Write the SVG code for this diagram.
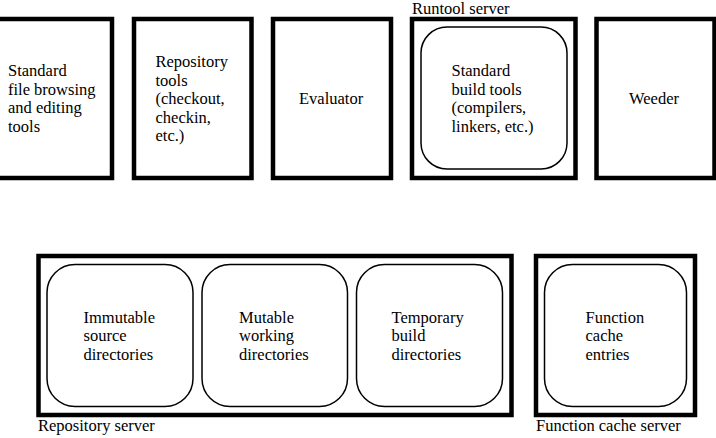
<svg xmlns="http://www.w3.org/2000/svg" width="716" height="438" viewBox="0 0 716 438" font-family="Liberation Serif, DejaVu Serif, serif" font-size="16.5">
<style>
.box{fill:#fff;stroke:#000;stroke-width:4.5}
.inner{fill:#fff;stroke:#000;stroke-width:1.5}
</style>
<rect width="716" height="438" fill="#fff"/>
<g id="file-tools">
<rect class="box" x="-10" y="19" width="122" height="159"/>
<text x="8" y="76" style="font-family:'Liberation Serif',serif">Standard</text>
<text x="8" y="94.5">file browsing</text>
<text x="8" y="113">and editing</text>
<text x="8" y="131.5">tools</text>
</g>
<g id="repository-tools">
<rect class="box" x="134" y="19" width="117.5" height="159"/>
<text x="155.5" y="67">Repository</text>
<text x="155.5" y="85.5">tools</text>
<text x="155.5" y="104">(checkout,</text>
<text x="155.5" y="122.5">checkin,</text>
<text x="155.5" y="141">etc.)</text>
</g>
<g id="evaluator">
<rect class="box" x="273" y="19" width="118" height="159"/>
<text x="299" y="104">Evaluator</text>
</g>
<g id="runtool-server">
<rect class="box" x="412" y="19" width="163.5" height="159"/>
<text x="412" y="14">Runtool server</text>
<g id="build-tools">
<rect class="inner" x="421" y="27" width="146" height="142" rx="26" ry="26"/>
<text x="451.5" y="76">Standard</text>
<text x="451.5" y="94.5">build tools</text>
<text x="451.5" y="113">(compilers,</text>
<text x="451.5" y="131.5">linkers, etc.)</text>
</g>
</g>
<g id="weeder">
<rect class="box" x="596.5" y="19" width="118" height="159"/>
<text x="629" y="104">Weeder</text>
</g>
<g id="repository-server">
<rect class="box" x="38.5" y="256" width="473" height="159"/>
<text x="38" y="431">Repository server</text>
<g id="immutable">
<rect class="inner" x="47" y="264.5" width="146" height="142" rx="28" ry="28"/>
<text x="83.5" y="322.5">Immutable</text>
<text x="83.5" y="341">source</text>
<text x="83.5" y="359.5">directories</text>
</g>
<g id="mutable">
<rect class="inner" x="202" y="264.5" width="145.5" height="142" rx="28" ry="28"/>
<text x="239" y="322.5">Mutable</text>
<text x="239" y="341">working</text>
<text x="239" y="359.5">directories</text>
</g>
<g id="temporary">
<rect class="inner" x="356.5" y="264.5" width="146" height="142" rx="28" ry="28"/>
<text x="391.5" y="322.5">Temporary</text>
<text x="391.5" y="341">build</text>
<text x="391.5" y="359.5">directories</text>
</g>
</g>
<g id="function-cache-server">
<rect class="box" x="536" y="256" width="159" height="159"/>
<text x="536" y="431">Function cache server</text>
<g id="cache-entries">
<rect class="inner" x="544.5" y="264.5" width="142" height="142" rx="28" ry="28"/>
<text x="585.5" y="322.5">Function</text>
<text x="585.5" y="341">cache</text>
<text x="585.5" y="359.5">entries</text>
</g>
</g>
</svg>
